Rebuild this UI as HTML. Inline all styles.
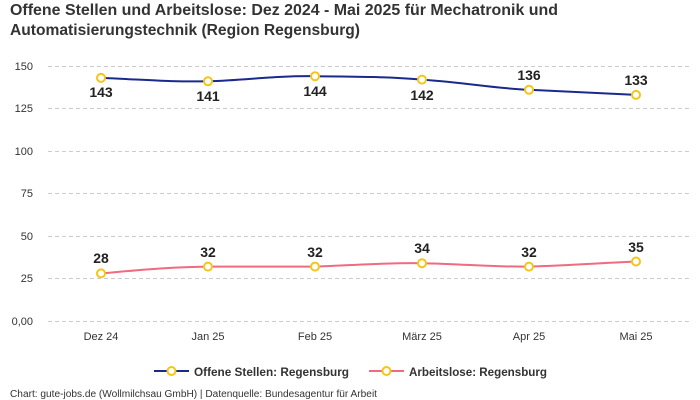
<!DOCTYPE html>
<html><head><meta charset="utf-8"><style>body{margin:0;background:#fff}svg{display:block;font-family:"Liberation Sans",sans-serif}</style></head><body>
<svg width="700" height="400" viewBox="0 0 700 400">
<g font-weight="bold" fill="#333" font-size="16">
<text x="10" y="15" textLength="548" lengthAdjust="spacingAndGlyphs">Offene Stellen und Arbeitslose: Dez 2024 - Mai 2025 für Mechatronik und</text>
<text x="10" y="35" textLength="350" lengthAdjust="spacingAndGlyphs">Automatisierungstechnik (Region Regensburg)</text>
</g>
<g stroke="#ccc" stroke-dasharray="4,3" stroke-width="1">
<line x1="48" x2="690" y1="66.5" y2="66.5"/><line x1="48" x2="690" y1="108.5" y2="108.5"/><line x1="48" x2="690" y1="151.5" y2="151.5"/><line x1="48" x2="690" y1="193.5" y2="193.5"/><line x1="48" x2="690" y1="236.5" y2="236.5"/><line x1="48" x2="690" y1="278.5" y2="278.5"/><line x1="48" x2="690" y1="321.5" y2="321.5"/>
</g>
<g font-size="11" fill="#333" text-anchor="end">
<text x="33" y="70">150</text><text x="33" y="112">125</text><text x="33" y="155">100</text><text x="33" y="197">75</text><text x="33" y="240">50</text><text x="33" y="282">25</text><text x="33" y="325">0,00</text>
</g>
<g font-size="11" fill="#333" text-anchor="middle">
<text x="101" y="340">Dez 24</text><text x="208" y="340">Jan 25</text><text x="315" y="340">Feb 25</text><text x="422" y="340">März 25</text><text x="529" y="340">Apr 25</text><text x="636" y="340">Mai 25</text>
</g>
<path d="M101,77.9 C150,80 170,82 208,81.3 C250,80 270,75.8 315,76.2 C360,76.5 390,77 422,79.6 C470,83 490,88 529,89.8 C570,92 600,93 636,94.9" fill="none" stroke="#1a2a8c" stroke-width="2"/>
<path d="M101,273.4 C140,270 170,267 208,266.6 C250,266.5 280,266.8 315,266.6 C360,265 390,262.5 422,263.2 C465,264 490,267 529,266.6 C570,265.5 600,263 636,261.5" fill="none" stroke="#f06a80" stroke-width="2"/>
<g fill="#fff" stroke="#f5c518" stroke-width="2">
<circle cx="101" cy="77.9" r="4"/><circle cx="208" cy="81.3" r="4"/><circle cx="315" cy="76.2" r="4"/><circle cx="422" cy="79.6" r="4"/><circle cx="529" cy="89.8" r="4"/><circle cx="636" cy="94.9" r="4"/>
<circle cx="101" cy="273.4" r="4"/><circle cx="208" cy="266.6" r="4"/><circle cx="315" cy="266.6" r="4"/><circle cx="422" cy="263.2" r="4"/><circle cx="529" cy="266.6" r="4"/><circle cx="636" cy="261.5" r="4"/>
</g>
<g font-size="14" fill="#222" text-anchor="middle" font-weight="bold">
<text x="101" y="97">143</text><text x="208" y="101">141</text><text x="315" y="96">144</text><text x="422" y="100">142</text><text x="529" y="80">136</text><text x="636" y="85">133</text>
<text x="101" y="263">28</text><text x="208" y="257">32</text><text x="315" y="257">32</text><text x="422" y="253">34</text><text x="529" y="257">32</text><text x="636" y="252">35</text>
</g>
<line x1="154" x2="189" y1="371" y2="371" stroke="#1a2a8c" stroke-width="2"/>
<circle cx="171.5" cy="371" r="4" fill="#fff" stroke="#f5c518" stroke-width="2"/>
<line x1="369" x2="404" y1="371" y2="371" stroke="#f06a80" stroke-width="2"/>
<circle cx="386.5" cy="371" r="4" fill="#fff" stroke="#f5c518" stroke-width="2"/>
<g font-size="12" font-weight="bold" fill="#333">
<text x="194" y="376" textLength="155" lengthAdjust="spacingAndGlyphs">Offene Stellen: Regensburg</text>
<text x="409" y="376" textLength="138" lengthAdjust="spacingAndGlyphs">Arbeitslose: Regensburg</text>
</g>
<text x="10" y="397" font-size="10" fill="#333" textLength="367" lengthAdjust="spacingAndGlyphs">Chart: gute-jobs.de (Wollmilchsau GmbH) | Datenquelle: Bundesagentur für Arbeit</text>
</svg>
</body></html>
